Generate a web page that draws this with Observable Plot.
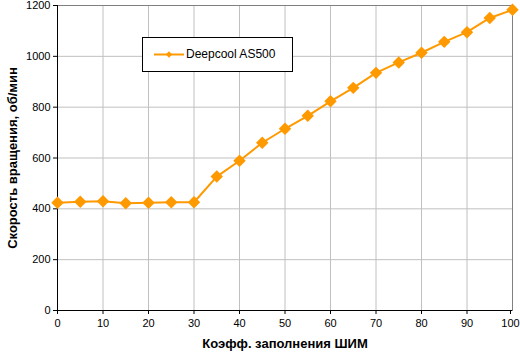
<!DOCTYPE html>
<html><head><meta charset="utf-8">
<script src="https://cdn.jsdelivr.net/npm/d3@7"></script>
<script src="https://cdn.jsdelivr.net/npm/@observablehq/plot@0.6"></script>
<style>
body{margin:0;background:#fff;}
#wrap{position:relative;width:520px;height:355px;font-family:"Liberation Sans",Arial,sans-serif;}
#legend{position:absolute;left:142px;top:37px;width:151px;height:35px;border:1px solid #000;background:#fff;box-sizing:border-box;}
#legend svg{position:absolute;left:0;top:0;}
#legend span{position:absolute;left:43px;top:9px;font-size:12px;color:#000;white-space:nowrap;}
</style></head>
<body><div id="wrap"><div id="chart"></div><div id="legend"></div></div>
<script>
const seriesName = "Deepcool AS500";
const pwm = [0,5,10,15,20,25,30,35,40,45,50,55,60,65,70,75,80,85,90,95,100];
const rpm = [424,428,430,422,424,426,426,527,589,660,715,766,823,876,935,976,1014,1057,1095,1151,1183];
const xTicks = [0,10,20,30,40,50,60,70,80,90,100];
const yTicks = [0,200,400,600,800,1000,1200];
const xLabel = "Коэфф. заполнения ШИМ";
const yLabel = "Скорость вращения, об/мин";
const color = "#FF9900";

const data = pwm.map((x,i)=>({x, y: rpm[i]}));
const lastX = xTicks[xTicks.length-1];

const chart = Plot.plot({
  width: 520, height: 355,
  marginLeft: 57, marginRight: 8, marginTop: 5, marginBottom: 45,
  style: {fontFamily: '"Liberation Sans", Arial, sans-serif', fontSize: "11px", background: "#fff", color: "#000"},
  x: {domain: [0,100]},
  y: {domain: [0,1200]},
  marks: [
    Plot.gridX(xTicks, {stroke: "#c0c0c0", strokeOpacity: 1}),
    Plot.gridY(yTicks, {stroke: "#c0c0c0", strokeOpacity: 1}),
    Plot.frame({stroke: "#808080", strokeWidth: 1}),
    Plot.ruleX([0], {stroke: "#000"}),
    Plot.ruleY([0], {stroke: "#000"}),
    Plot.axisX(xTicks.slice(0,-1), {tickSize: 4, tickPadding: 5, fontSize: 11, label: null, tickFormat: "d"}),
    Plot.axisX([lastX], {tickSize: 4, tickPadding: 5, fontSize: 11, label: null, tickFormat: "d", dx: -2}),
    Plot.axisY(yTicks, {tickSize: 4, tickPadding: 3, fontSize: 11, label: null, tickFormat: "d"}),
    Plot.line(data, {x: "x", y: "y", stroke: color, strokeWidth: 2}),
    Plot.dot(data, {x: "x", y: "y", symbol: "diamond2", r: 5.6, fill: color, stroke: "none"}),
    Plot.text([xLabel], {frameAnchor: "bottom", textAnchor: "middle", dy: 37, fontWeight: "bold", fontSize: 13}),
    Plot.text([yLabel], {frameAnchor: "left", textAnchor: "middle", dx: -45, rotate: -90, fontWeight: "bold", fontSize: 13})
  ]
});
document.getElementById("chart").append(chart);

const lg = document.getElementById("legend");
lg.innerHTML = `<svg width="151" height="35"><line x1="11" x2="41" y1="16.5" y2="16.5" stroke="${color}" stroke-width="2"/><path d="${d3.symbol(d3.symbolDiamond2, 26)()}" transform="translate(26,16.5)" fill="${color}"/></svg><span>${seriesName}</span>`;
</script></body></html>
